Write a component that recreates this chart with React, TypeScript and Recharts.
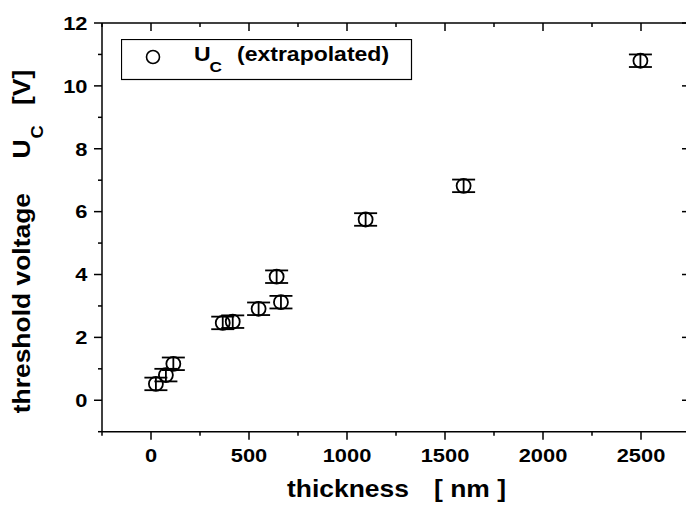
import { ScatterChart, Scatter, XAxis, YAxis, ErrorBar, Legend, Label } from "recharts";

// threshold voltage vs film thickness
const thickness = [25, 76, 114, 366, 417, 549, 641, 663, 1095, 1595, 2497];
const voltage = [0.52, 0.8, 1.16, 2.46, 2.5, 2.91, 3.93, 3.12, 5.75, 6.82, 10.8];
const voltageErr = [0.2, 0.2, 0.2, 0.2, 0.2, 0.2, 0.2, 0.2, 0.2, 0.2, 0.2];

const xTicks = [-250, 0, 250, 500, 750, 1000, 1250, 1500, 1750, 2000, 2250, 2500, 2750];
const xMajor = [0, 500, 1000, 1500, 2000, 2500];
const yTicks = [-1, 0, 1, 2, 3, 4, 5, 6, 7, 8, 9, 10, 11, 12];
const yMajor = [0, 2, 4, 6, 8, 10, 12];

const data = thickness.map((x, i) => ({ x, y: voltage[i], err: voltageErr[i] }));

const FONT = "'Liberation Sans', Arial, Helvetica, sans-serif";
const SX = 1.15; // glyphs in the reference are stretched along the text direction
const INK = "#000";

function BottomTick({ x, y, payload }: any) {
  const major = xMajor.includes(payload.value);
  return (
    <g>
      <line x1={x} x2={x} y1={y} y2={y + (major ? 8 : 4)} stroke={INK} strokeWidth={1.5} />
      {major && (
        <text transform={`translate(${x},${y + 30}) scale(${SX},1)`} textAnchor="middle" fontSize={19} fontWeight="bold" fontFamily={FONT} fill={INK}>
          {payload.value}
        </text>
      )}
    </g>
  );
}

function TopTick({ x, y, payload }: any) {
  const major = xMajor.includes(payload.value);
  return <line x1={x} x2={x} y1={y} y2={y + (major ? 8 : 4)} stroke={INK} strokeWidth={1.5} />;
}

function LeftTick({ x, y, payload }: any) {
  const major = yMajor.includes(payload.value);
  return (
    <g>
      <line x1={x - (major ? 8 : 4)} x2={x} y1={y} y2={y} stroke={INK} strokeWidth={1.5} />
      {major && (
        <text transform={`translate(${x - 14.5},${y + 6.8}) scale(${SX},1)`} textAnchor="end" fontSize={19} fontWeight="bold" fontFamily={FONT} fill={INK}>
          {payload.value}
        </text>
      )}
    </g>
  );
}

function RightTick({ x, y, payload }: any) {
  const major = yMajor.includes(payload.value);
  return <line x1={x - (major ? 8 : 4)} x2={x} y1={y} y2={y} stroke={INK} strokeWidth={1.5} />;
}

const bold = { fontWeight: "bold" as const, fontFamily: FONT, fill: INK };

function XTitle({ viewBox }: any) {
  const { x, y } = viewBox;
  const base = y + 65.5;
  return (
    <g>
      <text transform={`translate(${x + 185},${base}) scale(${SX},1)`} fontSize={23} {...bold}>thickness</text>
      <text transform={`translate(${x + 332},${base}) scale(${SX},1)`} fontSize={23} {...bold}>[ nm ]</text>
    </g>
  );
}

function YTitle() {
  // rotate first, then stretch along the text direction
  const rot = (px: number, py: number) => `translate(${px},${py}) rotate(-90) scale(${SX},1)`;
  return (
    <g>
      <text transform={rot(30, 193)} textAnchor="end" fontSize={23} {...bold}>threshold voltage</text>
      <text transform={rot(30, 158.5)} fontSize={23} {...bold}>U</text>
      <text transform={rot(43, 138.5)} fontSize={16} {...bold}>C</text>
      <text transform={rot(30, 105)} fontSize={23} {...bold}>[V]</text>
    </g>
  );
}

function Ring(p: any) {
  return <circle cx={p.cx} cy={p.cy} r={7} fill="none" stroke={INK} strokeWidth={1.8} />;
}

function LegendBox() {
  return (
    <svg width={292} height={42} style={{ display: "block" }}>
      <rect x={0.5} y={0.5} width={290} height={40} fill="#fff" stroke={INK} strokeWidth={1.2} />
      <circle cx={32} cy={18} r={6.5} fill="none" stroke={INK} strokeWidth={1.6} />
      <text transform={`translate(73,22) scale(${SX},1)`} fontSize={20} {...bold}>U</text>
      <text transform={`translate(88.5,32.5) scale(${SX},1)`} fontSize={15} {...bold}>C</text>
      <text transform={`translate(116,22) scale(${SX},1)`} fontSize={20} {...bold}>(extrapolated)</text>
    </svg>
  );
}

export default function App() {
  return (
    <div style={{ position: "absolute", left: 0, top: 0, width: 686, height: 510, overflow: "hidden", background: "#fff" }}>
      <ScatterChart width={692} height={510} margin={{ top: 23, right: 2, bottom: 0, left: 0 }}>
        <XAxis
          xAxisId="b"
          type="number"
          dataKey="x"
          domain={[-250, 2750]}
          ticks={xTicks}
          allowDataOverflow
          height={78.3}
          axisLine={{ stroke: INK, strokeWidth: 1.5 }}
          tickLine={false}
          tickSize={0}
          tickMargin={0}
          tick={<BottomTick />}
          interval={0}
          label={<Label content={<XTitle />} />}
        />
        <XAxis
          xAxisId="t"
          orientation="top"
          mirror
          type="number"
          dataKey="x"
          domain={[-250, 2750]}
          ticks={xTicks}
          allowDataOverflow
          height={1}
          axisLine={{ stroke: INK, strokeWidth: 1.5 }}
          tickLine={false}
          tickSize={0}
          tickMargin={0}
          tick={<TopTick />}
          interval={0}
        />
        <YAxis
          yAxisId="l"
          type="number"
          dataKey="y"
          domain={[-1, 12]}
          ticks={yTicks}
          allowDataOverflow
          width={102}
          axisLine={{ stroke: INK, strokeWidth: 1.5 }}
          tickLine={false}
          tickSize={0}
          tickMargin={0}
          tick={<LeftTick />}
          interval={0}
          label={<Label content={<YTitle />} />}
        />
        <YAxis
          yAxisId="r"
          orientation="right"
          mirror
          type="number"
          dataKey="y"
          domain={[-1, 12]}
          ticks={yTicks}
          allowDataOverflow
          width={1}
          axisLine={{ stroke: INK, strokeWidth: 1.5 }}
          tickLine={false}
          tickSize={0}
          tickMargin={0}
          tick={<RightTick />}
          interval={0}
        />
        <Legend
          layout="horizontal"
          verticalAlign="middle"
          align="center"
          content={() => <LegendBox />}
          wrapperStyle={{ position: "absolute", left: 121, top: 39, width: 292, height: 42 }}
        />
        <Scatter data={data} xAxisId="b" yAxisId="l" shape={<Ring />} isAnimationActive={false} legendType="circle" name="UC (extrapolated)">
          <ErrorBar dataKey="err" direction="y" width={11.5} stroke={INK} strokeWidth={1.8} isAnimationActive={false} />
        </Scatter>
      </ScatterChart>
    </div>
  );
}
